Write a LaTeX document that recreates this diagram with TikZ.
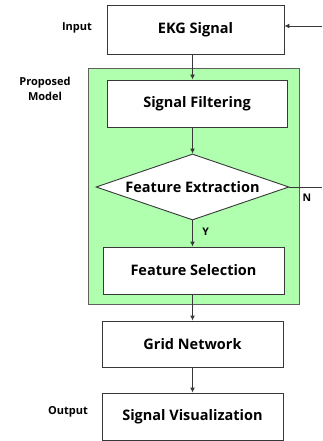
\documentclass[tikz,border=0pt]{standalone}
\usepackage{fontspec}
\setmainfont{Open Sans}[BoldFont={* Bold}]
\usetikzlibrary{shapes.geometric,arrows.meta}
\definecolor{edge}{HTML}{383838}
\definecolor{modelgreen}{HTML}{AFFFAF}
\tikzset{
  procbox/.style={draw=edge, line width=0.9pt, fill=white, minimum width=181pt, minimum height=47pt, inner sep=0pt, font=\fontsize{14.5}{17}\selectfont\bfseries},
  decision/.style={diamond, draw=edge, line width=0.9pt, fill=white, minimum width=193pt, minimum height=66pt, aspect=2.92, inner sep=0pt, font=\fontsize{14.5}{17}\selectfont\bfseries},
  sidelabel/.style={font=\fontsize{11}{13}\selectfont\bfseries, align=center, inner sep=0pt},
  flow/.style={draw=edge, line width=0.9pt, -{Latex[length=5pt,width=5pt]}},
  plain/.style={draw=edge, line width=0.9pt}
}
\begin{document}
\begin{tikzpicture}[x=1pt,y=-1pt]
\useasboundingbox (0,0) rectangle (322,441);
% model container
\node[draw=edge!80, line width=1pt, fill=modelgreen, minimum width=211pt, minimum height=235pt, inner sep=0pt] (model) at (193.5,186.5) {};
% process steps
\node[procbox, minimum width=177pt, minimum height=49pt] (ekg) at (195.5,29.5) {EKG Signal};
\node[procbox, minimum width=180pt] (filt) at (197,103.5) {Signal Filtering};
\node[decision] (dia) at (192.5,187) {Feature Extraction};
\node[procbox] (sel) at (193.5,270.5) {Feature Selection};
\node[procbox, minimum height=46pt] (grid) at (192.5,344) {Grid Network};
\node[procbox] (vis) at (192.5,416.5) {Signal Visualization};
% side labels
\node[sidelabel] (lin) at (77,28) {Input};
\node[sidelabel, font=\fontsize{11}{15}\selectfont\bfseries] (lmodel) at (45,89) {Proposed\\Model};
\node[sidelabel] (lout) at (68,412) {Output};
% connectors
\coordinate (inR) at (322,26);
\coordinate (nR) at (322,187);
\draw[flow] (inR) -- (inR -| ekg.east);
\draw[flow] (ekg.south -| dia.center) -- (filt.north -| dia.center);
\draw[flow] (filt.south -| dia.center) -- (dia.north);
\draw[flow] (dia.south) -- node[right=6pt, pos=0.45, font=\fontsize{10.5}{12}\selectfont\bfseries] (ylab) {Y} (sel.north -| dia.center);
\draw[plain] (dia.east) -- (nR);
\node[font=\fontsize{10.5}{12}\selectfont\bfseries] (nlab) at (307,198) {N};
\draw[flow] (sel.south -| dia.center) -- (grid.north -| dia.center);
\draw[flow] (grid.south -| dia.center) -- (vis.north -| dia.center);
\end{tikzpicture}
\end{document}
